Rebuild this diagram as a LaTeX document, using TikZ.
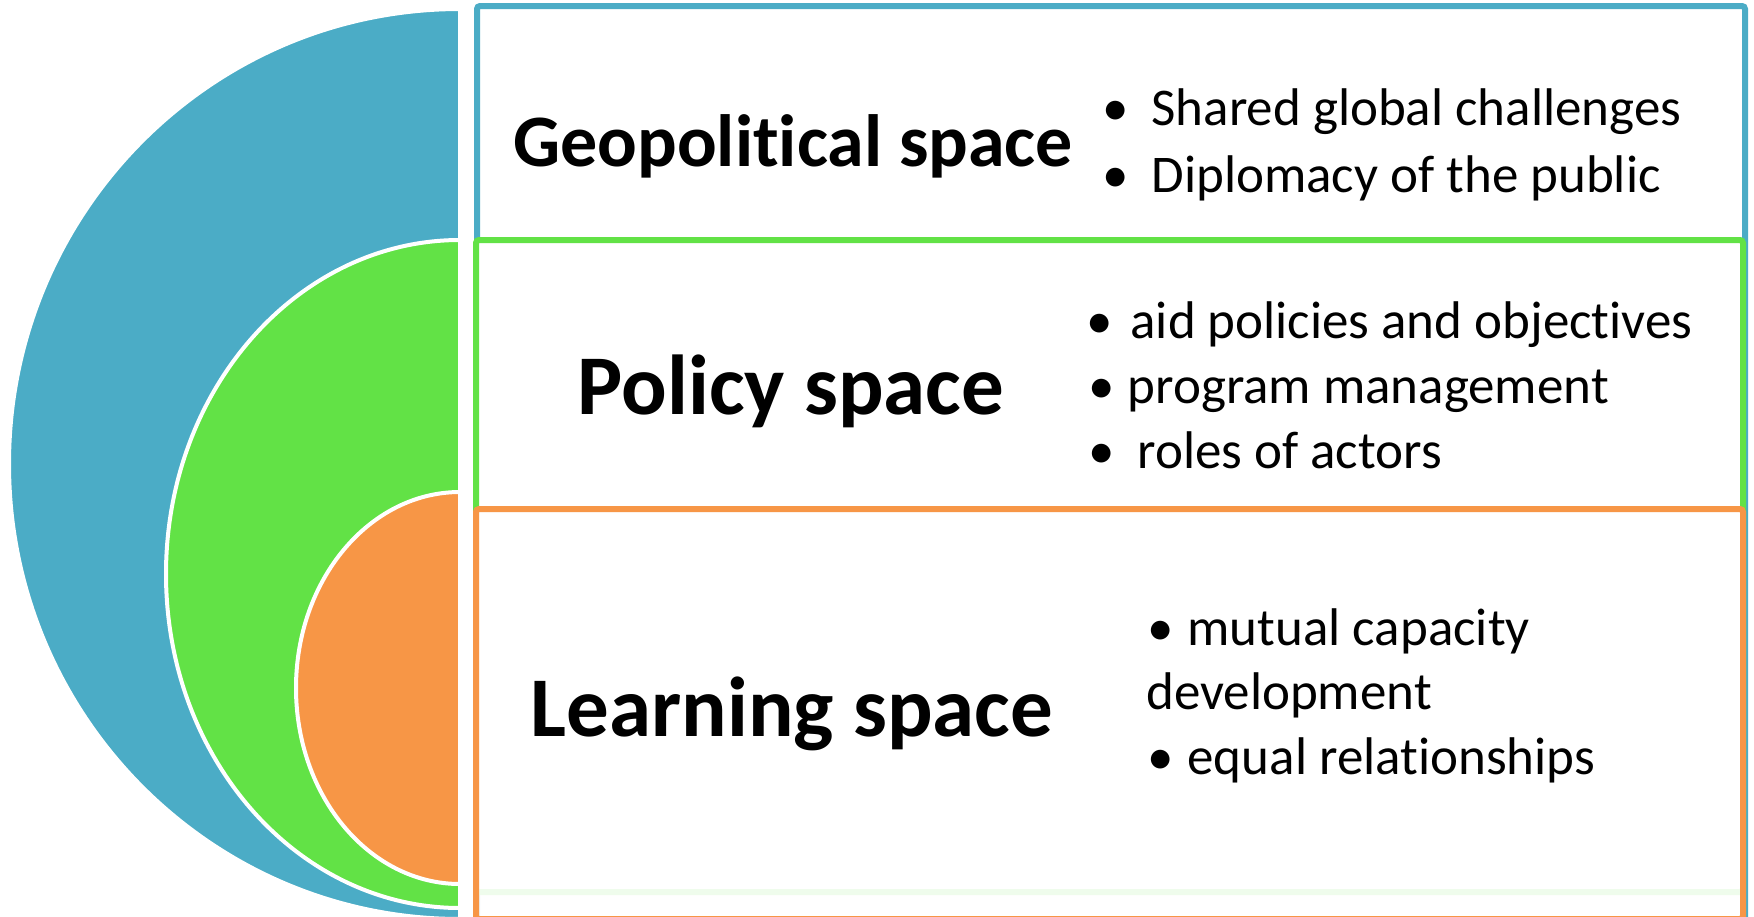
\documentclass[tikz,border=0pt]{standalone}
\usepackage{fontspec}
\setmainfont{Carlito}[Ligatures=NoCommon]
\definecolor{cblue}{RGB}{75,172,198}
\definecolor{cgreen}{RGB}{98,226,70}
\definecolor{corange}{RGB}{247,150,70}
\newcommand{\bul}[1]{•\hspace{#1}}
\tikzset{
  half/.style={draw=white, line width=4pt},
  spacebox/.style={line width=6pt, rounded corners=3pt, fill=white},
  title/.style={anchor=base, inner sep=0pt, font=\fontsize{85}{90}\selectfont\bfseries},
  item/.style={anchor=base west, inner sep=0pt, font=\fontsize{53}{60}\selectfont},
}
\begin{document}
\begin{tikzpicture}[x=1pt, y=-1pt]
\useasboundingbox (0,0) rectangle (1754,916);
\clip (0,0) rectangle (1754,916);
\fill[white] (0,0) rectangle (1754,916);
% nested half ellipses
\path[half, fill=cblue] (460,9) arc[start angle=270, end angle=90, x radius=451, y radius=455] -- cycle;
\path[half, fill=cgreen] (460,240) arc[start angle=270, end angle=90, x radius=294, y radius=334] -- cycle;
\path[half, fill=corange] (460,492) arc[start angle=270, end angle=90, x radius=164, y radius=196] -- cycle;
% boxes
\draw[spacebox, draw=cblue] (477,6) rectangle (1745,940);
\draw[spacebox, draw=cgreen] (476,240) rectangle (1743,892);
\draw[spacebox, draw=corange, fill opacity=0.9] (476,509) rectangle (1743,919);
% texts
\node[title, font=\fontsize{74}{80}\selectfont\bfseries] (geo) at (793,166) {Geopolitical space};
\node[item] (geo1) at (1102,125) {\bul{23pt}Shared global challenges};
\node[item] (geo2) at (1102,192) {\bul{23pt}Diplomacy of the public};
\node[title] (pol) at (791,414) {Policy space};
\node[item] (pol1) at (1086,338) {\bul{18pt}aid policies and objectives};
\node[item] (pol2) at (1088,403) {\bul{13pt}program management};
\node[item] (pol3) at (1088,468) {\bul{23pt}roles of actors};
\node[title] (lea) at (792,736) {Learning space};
\node[item] (lea1) at (1147,645) {\bul{14pt}mutual capacity};
\node[item] (lea2) at (1146,709) {development};
\node[item] (lea3) at (1147,774) {\bul{14pt}equal relationships};
\end{tikzpicture}
\end{document}
